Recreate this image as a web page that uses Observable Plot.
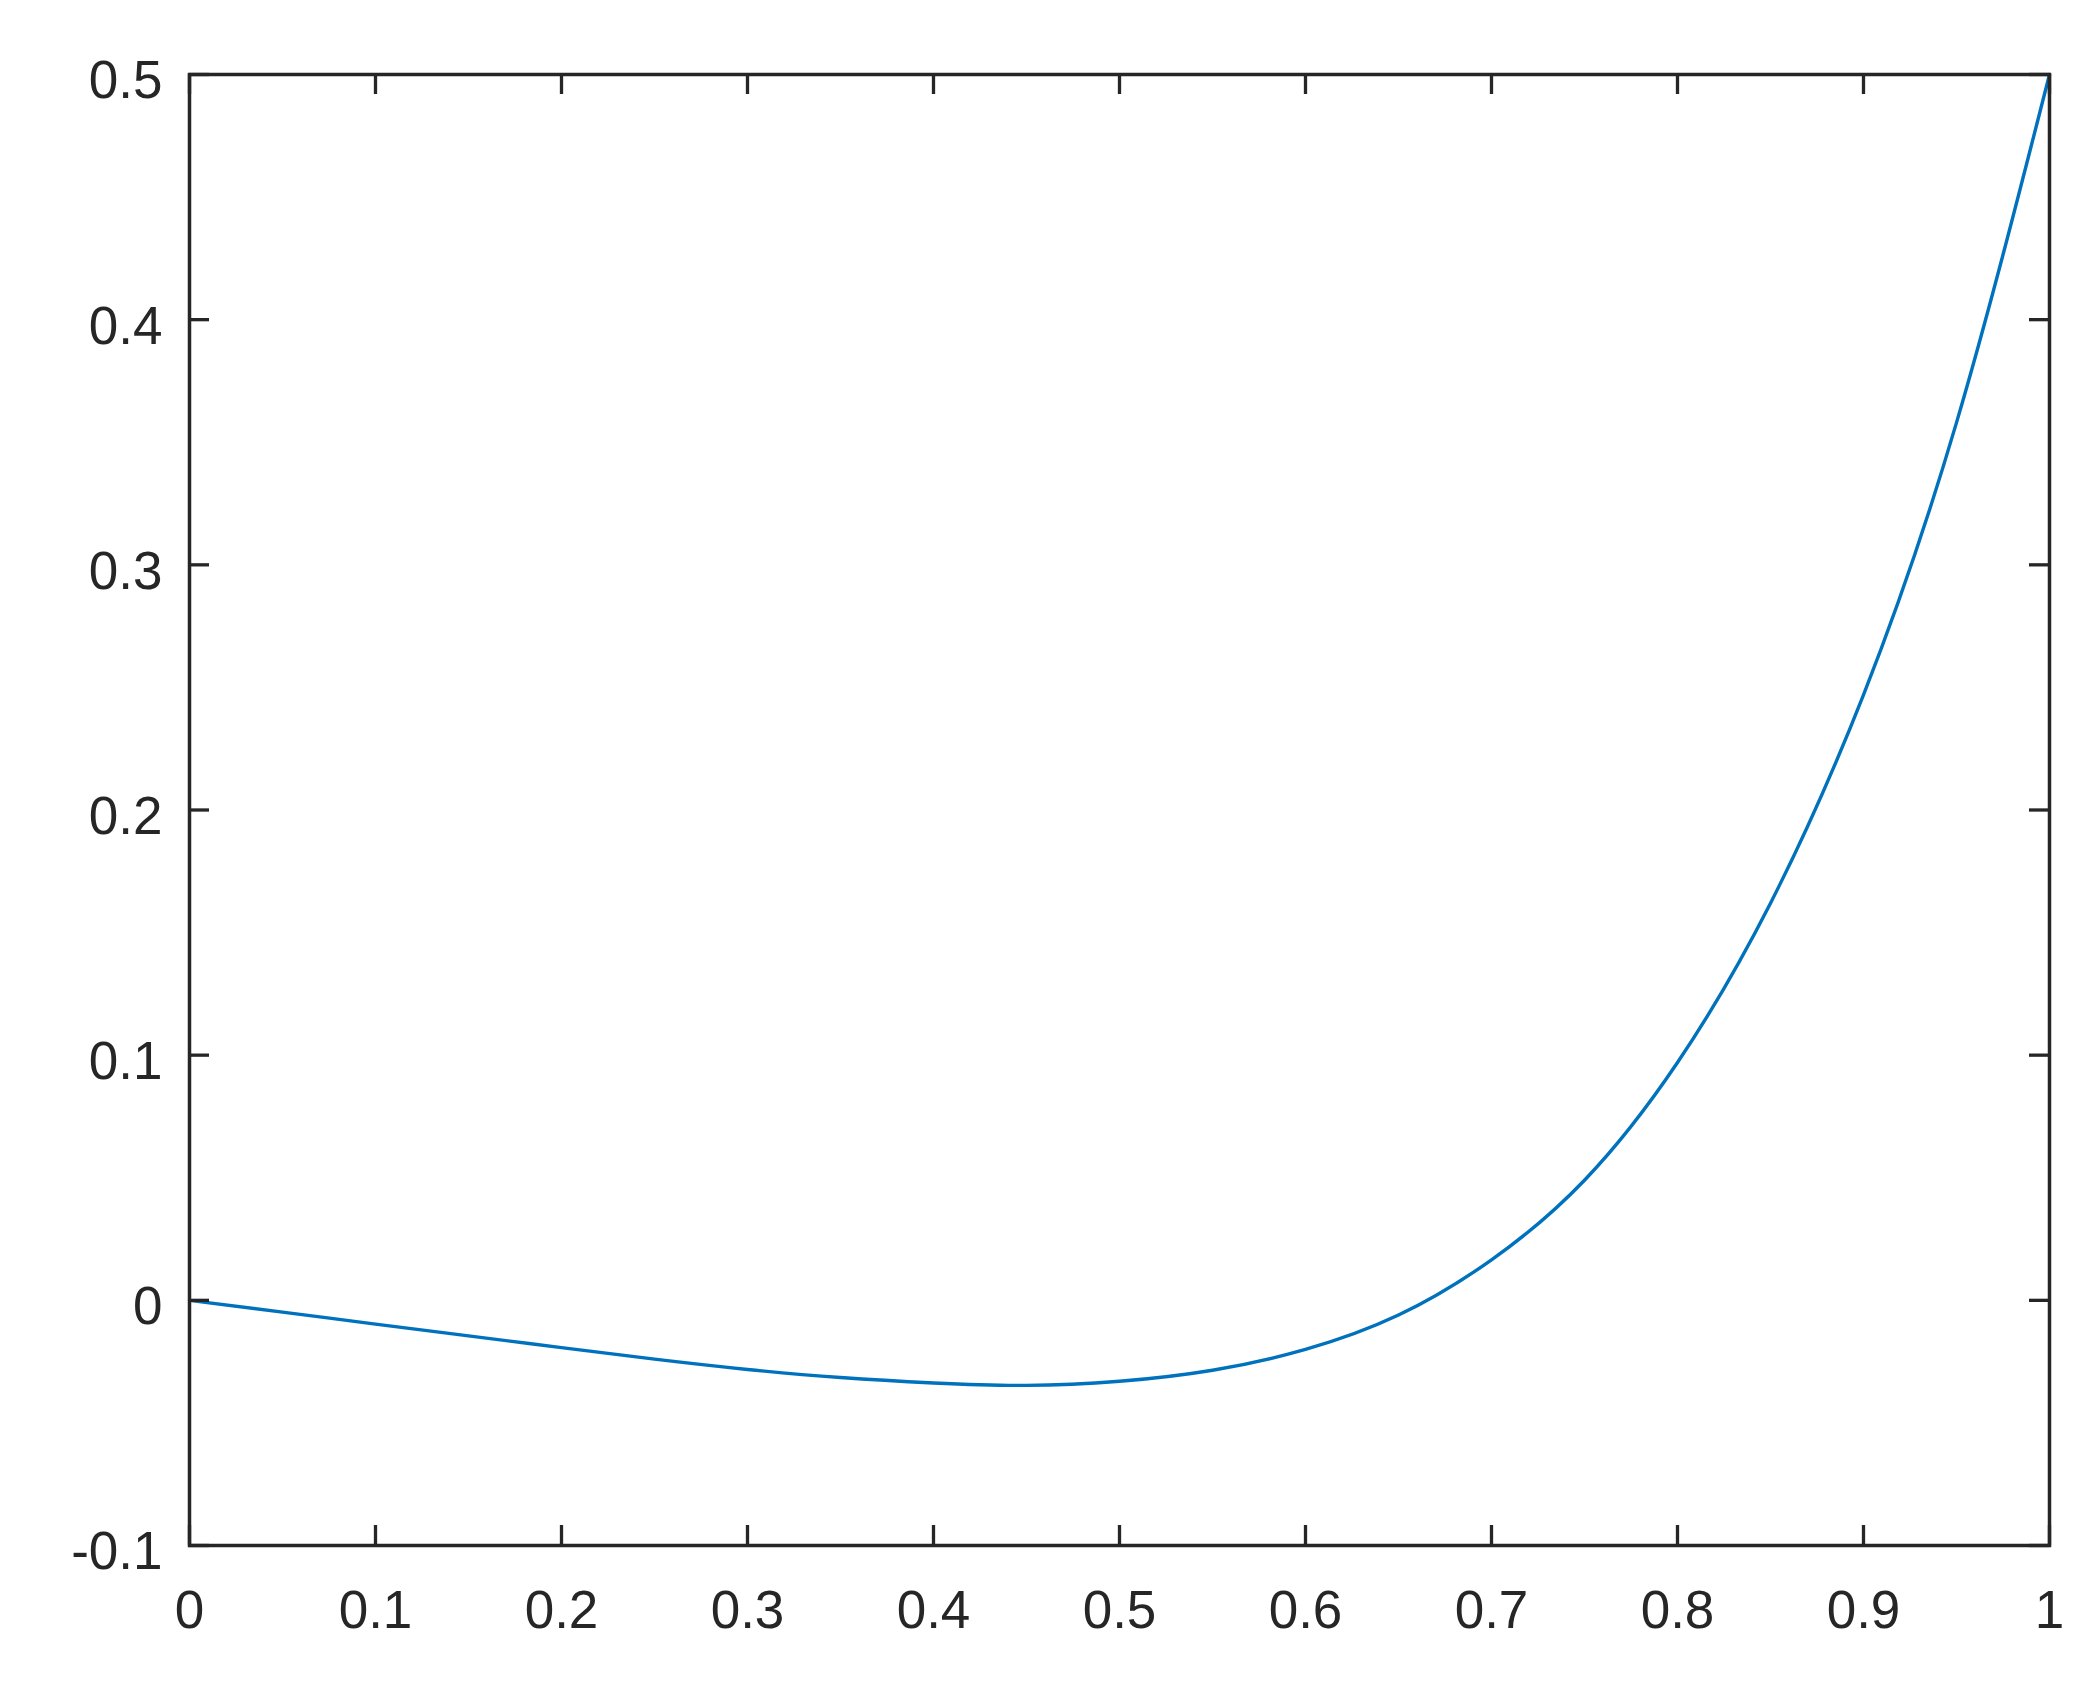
<!DOCTYPE html>
<html>
<head>
<meta charset="utf-8">
<script src="https://cdn.jsdelivr.net/npm/d3@7"></script>
<script src="https://cdn.jsdelivr.net/npm/@observablehq/plot@0.6"></script>
<style>
  html, body { margin: 0; padding: 0; background: #ffffff; overflow: hidden; }
  #chart svg { display: block; }
</style>
</head>
<body>
<div id="chart"></div>
<script>
// Curve samples (x step 0.05)
const xValues = [0, 0.05, 0.10, 0.15, 0.20, 0.25, 0.30, 0.35, 0.40, 0.45, 0.50, 0.55, 0.60, 0.65, 0.70, 0.75, 0.80, 0.85, 0.90, 0.95, 1.0];
const yValues = [0, -0.0048, -0.0097, -0.0145, -0.0193, -0.0240, -0.0282, -0.0315, -0.0337, -0.0347, -0.0330, -0.0285, -0.0200, -0.0060, 0.0165, 0.0490, 0.0970, 0.1620, 0.2470, 0.3580, 0.5];

// Tick values and labels
const xTicks = [0, 0.1, 0.2, 0.3, 0.4, 0.5, 0.6, 0.7, 0.8, 0.9, 1];
const xTickLabels = ["0", "0.1", "0.2", "0.3", "0.4", "0.5", "0.6", "0.7", "0.8", "0.9", "1"];
const yTicks = [-0.1, 0, 0.1, 0.2, 0.3, 0.4, 0.5];
const yTickLabels = ["-0.1", "0", "0.1", "0.2", "0.3", "0.4", "0.5"];

const data = xValues.map((x, i) => ({x, y: yValues[i]}));

const W = 2097, H = 1704;
const mL = 189, mR = 48, mT = 74, mB = 159;
const plotW = W - mL - mR, plotH = H - mT - mB;
const tickLen = 20;
const axisColor = "#262626";

const chart = Plot.plot({
  width: W,
  height: H,
  marginLeft: mL,
  marginRight: mR,
  marginTop: mT,
  marginBottom: mB,
  style: {
    fontFamily: "'Liberation Sans', Arial, Helvetica, sans-serif",
    fontSize: "53px",
    color: axisColor,
    background: "#ffffff",
    overflow: "visible"
  },
  x: {domain: [0, 1], axis: null},
  y: {domain: [-0.1, 0.5], axis: null},
  marks: [
    Plot.line(data, {x: "x", y: "y", stroke: "#0072BD", strokeWidth: 3.4, curve: "natural"}),
    // inward ticks on all four sides
    Plot.ruleX(xTicks, {stroke: axisColor, strokeWidth: 3.3, insetTop: plotH - tickLen}),
    Plot.ruleX(xTicks, {stroke: axisColor, strokeWidth: 3.3, insetBottom: plotH - tickLen}),
    Plot.ruleY(yTicks, {stroke: axisColor, strokeWidth: 3.3, insetRight: plotW - tickLen}),
    Plot.ruleY(yTicks, {stroke: axisColor, strokeWidth: 3.3, insetLeft: plotW - tickLen}),
    Plot.frame({stroke: axisColor, strokeWidth: 3.5}),
    Plot.axisX(xTicks, {
      anchor: "bottom", tickSize: 0, tickPadding: 45, fill: axisColor, label: null,
      tickFormat: (d) => xTickLabels[xTicks.indexOf(d)]
    }),
    Plot.axisY(yTicks, {
      anchor: "left", tickSize: 0, tickPadding: 27, fill: axisColor, dy: 7, label: null,
      tickFormat: (d) => yTickLabels[yTicks.indexOf(d)]
    })
  ]
});

document.getElementById("chart").appendChild(chart);
</script>
</body>
</html>
